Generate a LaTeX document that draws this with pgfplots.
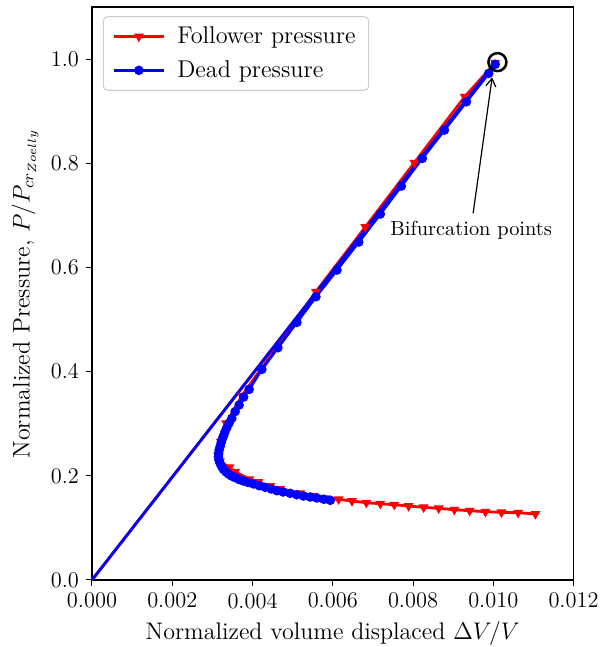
\documentclass[border=0pt]{standalone}
\usepackage{pgfplots}
\pgfplotsset{compat=1.18}
\usetikzlibrary{arrows.meta}
\begin{document}
\begin{tikzpicture}
\begin{axis}[
  width=240.75pt, height=286.5pt, scale only axis,
  xmin=0, xmax=0.012, ymin=0, ymax=1.1,
  xtick={0,0.002,0.004,0.006,0.008,0.010,0.012},
  xticklabels={0.000,0.002,0.004,0.006,0.008,0.010,0.012},
  ytick={0,0.2,0.4,0.6,0.8,1.0},
  yticklabels={0.0,0.2,0.4,0.6,0.8,1.0},
  scaled x ticks=false,
  tick align=outside, xtick pos=bottom, ytick pos=left,
  major tick length=3pt,
  tick style={black, line width=0.5pt},
  axis line style={line width=0.6pt},
  tick label style={font=\fontsize{11.2}{13}\selectfont},
  xlabel={Normalized volume displaced $\Delta V/V$},
  ylabel={Normalized Pressure, $P/P_{cr_{Zoelly}}$},
  label style={font=\fontsize{12}{14}\selectfont},
  xlabel style={at={(axis description cs:0.5,-0.103)}, anchor=base},
  ylabel style={at={(axis description cs:-0.139,0.5)}, anchor=center},
  legend cell align=left,
  legend style={at={(0.0228,0.984)}, anchor=north west,
    font=\fontsize{12.1}{14}\selectfont, draw=black!20, rounded corners=2pt,
    line width=0.5pt, inner xsep=4.5pt, inner ysep=3pt, row sep=3pt, column sep=4pt},
  legend image code/.code={\draw[mark repeat=2, mark phase=2] plot coordinates {(0pt,0pt) (12.5pt,0pt) (25pt,0pt)};},
  clip=false,
]
% fundamental branches (no markers)
\addplot[red, line width=1.4pt, forget plot] coordinates {(0,0) (0.01005,0.993)};
% follower pressure post-buckling branch
\addplot[red, line width=1.4pt, mark=triangle*, mark size=1.45pt, mark options={rotate=180, solid}] coordinates {
(0.01005,0.993)
(0.009288,0.9277)
(0.008033,0.8010)
(0.006811,0.6775)
(0.005581,0.5534)
(0.003735,0.3537)
(0.003343,0.3008)
(0.003211,0.2655)
(0.003150,0.2400)
(0.003190,0.2280)
(0.003425,0.2163)
(0.003568,0.2079)
(0.003924,0.1933)
(0.004149,0.1881)
(0.004441,0.1804)
(0.004690,0.1752)
(0.005189,0.1664)
(0.005521,0.1618)
(0.005813,0.1568)
(0.006145,0.1549)
(0.006479,0.1516)
(0.006836,0.1484)
(0.007185,0.1464)
(0.007534,0.1445)
(0.007891,0.1420)
(0.008265,0.1395)
(0.008639,0.1376)
(0.009031,0.1349)
(0.009413,0.1330)
(0.009804,0.1311)
(0.010204,0.1299)
(0.010620,0.1292)
(0.011052,0.1267)
};
\addlegendentry{Follower pressure}
\addplot[blue, line width=1.4pt, forget plot] coordinates {(0,0) (0.01005,0.993)};
% dead pressure post-buckling branch
\addplot[blue, line width=1.4pt, mark=*, mark size=1.65pt] coordinates {
(0.01005,0.990)
(0.009887,0.9726)
(0.009331,0.9180)
(0.008782,0.8637)
(0.008233,0.8094)
(0.007709,0.7562)
(0.007185,0.7025)
(0.006649,0.6488)
(0.006105,0.5950)
(0.005581,0.5438)
(0.005107,0.4946)
(0.004633,0.4459)
(0.004234,0.4044)
(0.003917,0.3660)
(0.003780,0.3512)
(0.003667,0.3359)
(0.003568,0.3234)
(0.003485,0.3104)
(0.003418,0.3013)
(0.003361,0.2923)
(0.003313,0.2841)
(0.003276,0.2764)
(0.003243,0.2697)
(0.003218,0.2635)
(0.003193,0.2562)
(0.003168,0.2495)
(0.003156,0.2428)
(0.003151,0.2367)
(0.003163,0.2303)
(0.003193,0.2240)
(0.003231,0.2179)
(0.003276,0.2125)
(0.003336,0.2077)
(0.003400,0.2035)
(0.003480,0.1996)
(0.003568,0.1964)
(0.003667,0.1929)
(0.003775,0.1900)
(0.003892,0.1871)
(0.004024,0.1843)
(0.004166,0.1810)
(0.004316,0.1779)
(0.004466,0.1747)
(0.004608,0.1714)
(0.004765,0.1689)
(0.004940,0.1664)
(0.005102,0.1637)
(0.005272,0.1612)
(0.005439,0.1593)
(0.005606,0.1574)
(0.005775,0.1551)
(0.005938,0.1530)
};
\addlegendentry{Dead pressure}
% bifurcation marker
\addplot[black, only marks, mark=o, mark size=4.5pt, mark options={line width=1.25pt}, forget plot] coordinates {(0.010104,0.9942)};
\draw[-{Straight Barb[length=4pt,width=5pt]}, line width=0.6pt] (axis cs:0.009498,0.7038) -- (axis cs:0.009972,0.9649);
\node[anchor=base, font=\fontsize{10.2}{12}\selectfont, inner sep=0pt] at (axis cs:0.00945,0.6608) {Bifurcation points};
\coordinate (tl) at (rel axis cs:0,1);
\coordinate (br) at (rel axis cs:1,0);
\end{axis}
\pgfresetboundingbox
\useasboundingbox ([xshift=-46pt,yshift=3.5pt]tl) rectangle ([xshift=14pt,yshift=-33.5pt]br);
\end{tikzpicture}
\end{document}
